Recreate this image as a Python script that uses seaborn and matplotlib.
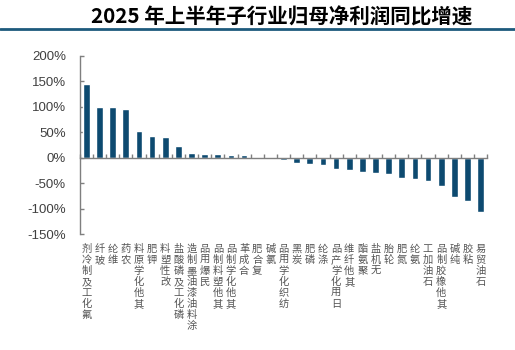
import matplotlib
matplotlib.use("Agg")
import matplotlib.pyplot as plt
import matplotlib.transforms as mtransforms
from matplotlib.lines import Line2D
import seaborn as sns
import pandas as pd
import numpy as np

categories = ["氟化工及制冷剂", "玻纤", "维纶", "农药", "其他化学原料", "钾肥", "改性塑料",
              "磷化工及磷酸盐", "涂料油漆油墨制造", "民爆用品", "其他塑料制品", "其他化学制品",
              "合成革", "复合肥", "氯碱", "纺织化学用品", "炭黑", "磷肥", "涤纶", "日用化学产品",
              "其他纤维", "聚氨酯", "无机盐", "轮胎", "氮肥", "氨纶", "石油加工", "其他橡胶制品",
              "纯碱", "粘胶", "石油贸易"]
growth = [145, 100, 99, 95, 52, 42, 40, 23, 9, 8, 8, 6, 5, -3, -3, -5, -10, -13, -14,
          -22, -24, -28, -31, -32, -39, -41, -45, -56, -77, -85, -106]
yticks = [-150, -100, -50, 0, 50, 100, 150, 200]
title = "2025 年上半年子行业归母净利润同比增速"

sns.set_theme(style="white")
plt.rcParams['font.family'] = ['Liberation Sans', 'Noto Sans CJK SC', 'DejaVu Sans']

df = pd.DataFrame({"cat": categories, "val": growth})
bar_color = "#0d4a70"

fig = plt.figure(figsize=(5.15, 3.5), dpi=100)
ax = fig.add_axes([0.155, 0.331, 0.791, 0.510])
sns.barplot(data=df, x="cat", y="val", color=bar_color, width=0.51, saturation=1, ax=ax)

ax.set_ylim(-150, 200)
ax.set_xlim(-0.5, len(categories) - 0.5)
ax.set_yticks(yticks)
ax.set_yticklabels([f"{t}%" for t in yticks], fontsize=9.5, color="#404040")
ax.set_xlabel("")
ax.set_ylabel("")

for s in ["top", "right"]:
    ax.spines[s].set_visible(False)
ax.spines["left"].set_color("#7f7f7f")
ax.spines["left"].set_linewidth(1.0)
ax.spines["bottom"].set_position(("data", 0))
ax.spines["bottom"].set_color("#7f7f7f")
ax.spines["bottom"].set_linewidth(1.0)
ax.tick_params(axis="y", direction="in", length=3, width=1, color="#7f7f7f", pad=10, left=True)
ax.set_xticks(np.arange(len(categories)))
ax.set_xticklabels([])
ax.tick_params(axis="x", which="major", length=0)
ax.set_xticks(np.arange(len(categories) + 1) - 0.5, minor=True)
ax.tick_params(axis="x", which="minor", direction="in", length=3, width=1, color="#7f7f7f", bottom=True)

trans = mtransforms.blended_transform_factory(ax.transData, ax.transAxes)
for i, name in enumerate(categories):
    ax.text(i, -0.055, "\n".join(reversed(name)), transform=trans, ha="center", va="top",
            fontsize=7.4, linespacing=1.12, color="#555555",
            family=['Noto Sans CJK SC', 'DejaVu Sans'])

fig.text(0.546, 1 - 17 / 350, title, ha="center", va="center", fontsize=14.8,
         fontweight="bold", color="black", family=['Noto Sans CJK SC', 'DejaVu Sans'])
fig.add_artist(Line2D([0, 1], [1 - 28.5 / 350, 1 - 28.5 / 350], transform=fig.transFigure,
                      color="#1d5a7c", linewidth=2))

fig.savefig("out.png", dpi=100)
